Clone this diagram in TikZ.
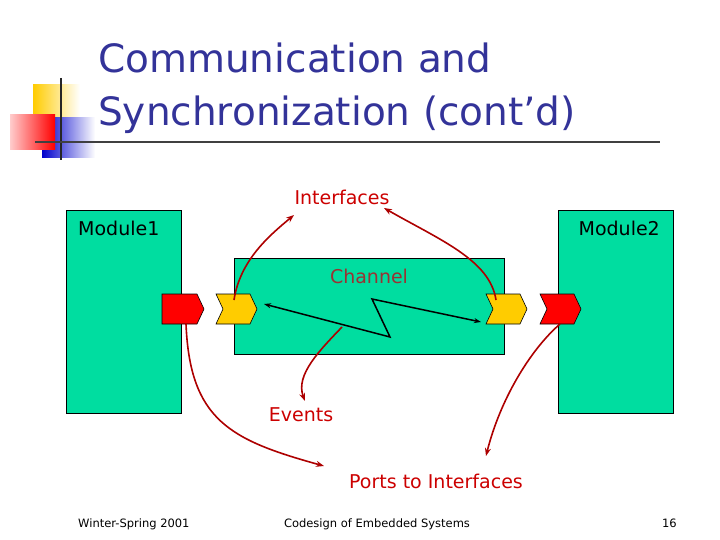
\documentclass[tikz,border=0pt]{standalone}
\usepackage{fontspec}
\setmainfont{DejaVu Sans}
\usetikzlibrary{arrows.meta}
\definecolor{teal1}{HTML}{00DDA0}
\definecolor{tblue}{HTML}{333399}
\definecolor{lred}{HTML}{CC0000}
\definecolor{cred}{HTML}{993333}
\definecolor{port}{HTML}{FF0000}
\definecolor{yel}{HTML}{FFCC00}
\begin{document}
\begin{tikzpicture}[x=1pt,y=-1pt,
  box/.style={fill=teal1,draw=black,line width=0.8pt},
  lbl/.style={font=\fontsize{19}{22}\selectfont,inner sep=0},
  rl/.style={draw=lred!85!black,line width=1.6pt,-{Stealth[length=8pt,width=6pt]}},
  foot/.style={font=\fontsize{11.5}{13}\selectfont,inner sep=0}]
\useasboundingbox (0,0) rectangle (720,540);
% logo
\shade[left color=yel,right color=white] (33,85) rectangle (80,135);
\shade[left color=blue!80!black,right color=white] (42,118) rectangle (95,158);
\shade[left color=port!20,right color=port] (10,115) rectangle (55,150);
\draw[line width=1.5pt,black!85] (61,78) -- (61,160);
\draw[line width=1.5pt,black!75] (35,142) -- (660,142);
\node[anchor=base west,inner sep=0,text=tblue,font=\fontsize{39}{44}\selectfont] (t1) at (98,73) {Communication and};
\node[anchor=base west,inner sep=0,text=tblue,font=\fontsize{39}{44}\selectfont] (t2) at (98,126) {Synchronization (cont’d)};
% boxes
\node[box,minimum width=0,inner sep=0,anchor=north west] (m1) at (66,210) {};
\draw[box] (66,210) rectangle (181,413);
\draw[box] (558,210) rectangle (673,413);
\draw[box] (234,258) rectangle (504,354);
\coordinate (m1) at (123,300);
\node[lbl,anchor=base west] (l1) at (78,236) {Module1};
\node[lbl,anchor=base east] (l2) at (660,236) {Module2};
\node[lbl,anchor=base,text=cred] (ch) at (369,283) {Channel};
% ports
\draw[fill=port,line width=0.6pt] (162,294) -- (197,294) -- (204,309) -- (197,324) -- (162,324) -- cycle;
\draw[fill=yel,line width=0.6pt] (216,294) -- (250,294) -- (257,309) -- (250,324) -- (216,324) -- (223,309) -- cycle;
\draw[fill=yel,line width=0.6pt] (486,294) -- (520,294) -- (527,309) -- (520,324) -- (486,324) -- (493,309) -- cycle;
\draw[fill=port,line width=0.6pt] (540,294) -- (574,294) -- (581,309) -- (574,324) -- (540,324) -- (547,309) -- cycle;
\coordinate (py1) at (234,300);
\coordinate (py2) at (496,300);
\coordinate (pr1) at (186,324);
\coordinate (pr2) at (560,324);
% zigzag
\coordinate (z1) at (264,304);
\coordinate (z2) at (390,337);
\coordinate (z3) at (372,299);
\coordinate (z4) at (481,322);
\draw[line width=1.5pt,{Stealth[length=7pt,width=5pt]}-{Stealth[length=7pt,width=5pt]}] (z1) -- (z2) -- (z3) -- (z4);
% labels
\node[lbl,anchor=base,text=lred] (if) at (342,205) {Interfaces};
\node[lbl,anchor=base,text=lred] (ev) at (301,421) {Events};
\node[lbl,anchor=base,text=lred] (pi) at (436,488) {Ports to Interfaces};
\coordinate (zm) at (342,327);
\draw[rl] (py1) .. controls (240,260) and (270,235) .. (294,215);
\draw[rl] (py2) .. controls (490,260) and (440,240) .. (384,208);
\draw[rl] (zm) .. controls (320,350) and (295,375) .. (305,401);
\draw[rl] (pr1) .. controls (190,420) and (230,440) .. (324,466);
\draw[rl] (pr2) .. controls (530,350) and (500,400) .. (486,456);
% footer
\node[foot,anchor=base west] (f1) at (78,527) {Winter-Spring 2001};
\node[foot,anchor=base] (f2) at (377,527) {Codesign of Embedded Systems};
\node[foot,anchor=base east] (f3) at (677,527) {16};
\end{tikzpicture}
\end{document}
